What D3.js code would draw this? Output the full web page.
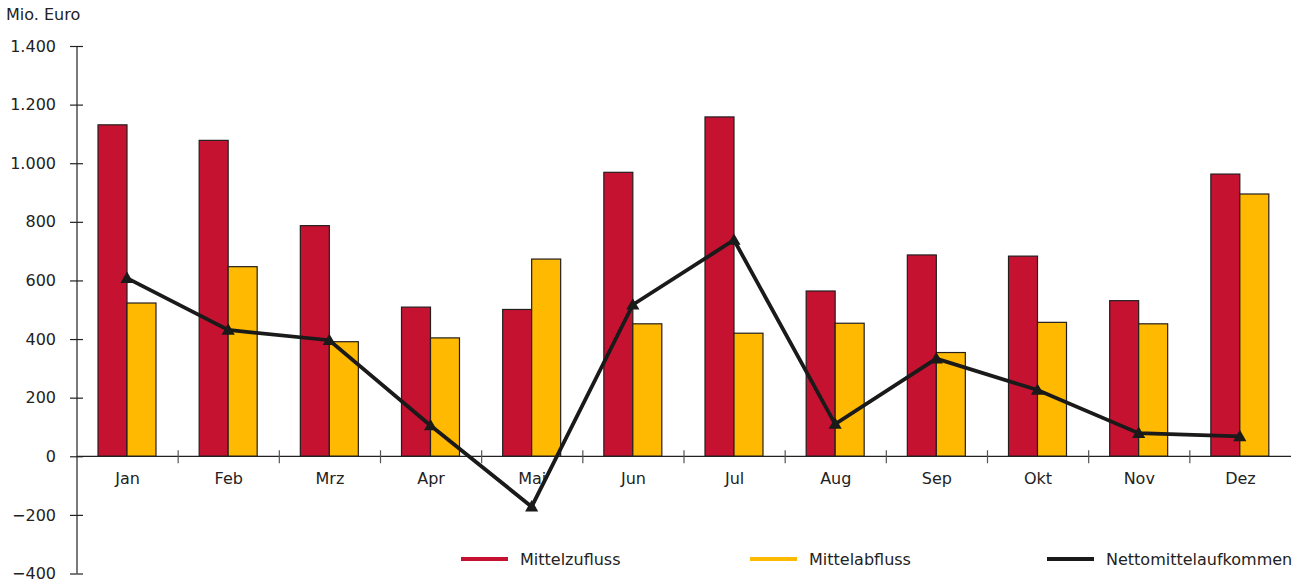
<!DOCTYPE html>
<html><head><meta charset="utf-8">
<script src="https://cdn.jsdelivr.net/npm/d3@7"></script>
<style>body{margin:0;background:#fff}svg{display:block}text{font-family:"DejaVu Sans",Verdana,sans-serif;fill:#222}</style>
</head><body><svg id="c" width="1301" height="583"></svg>
<script>
const months = ["Jan","Feb","Mrz","Apr","Mai","Jun","Jul","Aug","Sep","Okt","Nov","Dez"];
const zufluss = [1131,1078,787,509,501,969,1158,564,687,683,531,963];
const abfluss = [523,647,391,404,673,452,420,454,354,457,452,895];
const netto = [608,431,396,105,-172,517,738,110,333,226,79,68];
const yTicks = [-400,-200,0,200,400,600,800,1000,1200,1400];
const seriesNames = ["Mittelzufluss","Mittelabfluss","Nettomittelaufkommen"];
const colors = ["#C41230","#FFB900","#1a1a1a"];

const svg = d3.select("#c");
const x = d3.scaleBand().domain(months).range([77,1291]).padding(0);
const y = d3.scaleLinear().domain([-400,1400]).range([573.5,46]);
const fmt = v => d3.format(",")(v).replace(/,/g,".");
const inner = d3.scaleBand().domain([0,1]).range([0,58]);
const barOff = 21;
const fs = "16px";

// bars
const g = svg.append("g");
[zufluss, abfluss].forEach((arr,si)=>{
  g.selectAll(null).data(arr).enter().append("rect")
    .attr("x",(d,i)=>x(months[i])+barOff+inner(si))
    .attr("y",d=>y(Math.max(0,d)))
    .attr("width",inner.bandwidth())
    .attr("height",d=>Math.abs(y(d)-y(0)))
    .attr("fill",colors[si]).attr("stroke","#231f20").attr("stroke-width",1.2);
});

// y axis
const ya = svg.append("g").attr("transform","translate(77,0)")
  .call(d3.axisLeft(y).tickValues(yTicks).tickFormat(fmt).tickSize(7).tickPadding(14));
ya.selectAll(".tick line").attr("x2",6).attr("x1",-7);
ya.select(".domain").remove();
ya.append("line").attr("x1",0).attr("x2",0).attr("y1",y(1400)).attr("y2",y(-400)).attr("stroke","#222").attr("stroke-width",1.2);
ya.selectAll(".tick line").attr("stroke","#222").attr("stroke-width",1.2);
ya.selectAll("text").style("font-size",fs).attr("fill","#222");

// x axis
const xa = svg.append("g").attr("transform",`translate(0,${y(0)})`);
xa.append("line").attr("x1",77).attr("x2",1291).attr("stroke","#222").attr("stroke-width",1.2);
xa.selectAll(null).data(months.slice(1)).enter().append("line")
  .attr("x1",d=>x(d)).attr("x2",d=>x(d)).attr("y1",-6).attr("y2",7).attr("stroke","#555").attr("stroke-width",1.2);
xa.selectAll(null).data(months).enter().append("text")
  .attr("x",d=>x(d)+x.bandwidth()/2).attr("y",28).attr("text-anchor","middle")
  .style("font-size",fs).text(d=>d);

// line
const lx = (d,i)=>x(months[i])+barOff+inner.bandwidth();
svg.append("path").datum(netto)
  .attr("d",d3.line().x(lx).y(d=>y(d)))
  .attr("fill","none").attr("stroke",colors[2]).attr("stroke-width",3.8).attr("stroke-linejoin","miter");
svg.selectAll(null).data(netto).enter().append("path")
  .attr("d",d3.symbol().type(d3.symbolTriangle).size(75))
  .attr("transform",(d,i)=>`translate(${lx(d,i)},${y(d)+1})`)
  .attr("fill",colors[2]);

// title
svg.append("text").attr("x",6).attr("y",20).style("font-size",fs).text("Mio. Euro");

// legend
const legX = [461,750,1047];
const lg = svg.append("g");
seriesNames.forEach((n,i)=>{
  lg.append("line").attr("x1",legX[i]).attr("x2",legX[i]+47).attr("y1",559).attr("y2",559)
    .attr("stroke",colors[i]).attr("stroke-width",4);
  lg.append("text").attr("x",legX[i]+59).attr("y",565).style("font-size",fs).text(n);
});
</script></body></html>
